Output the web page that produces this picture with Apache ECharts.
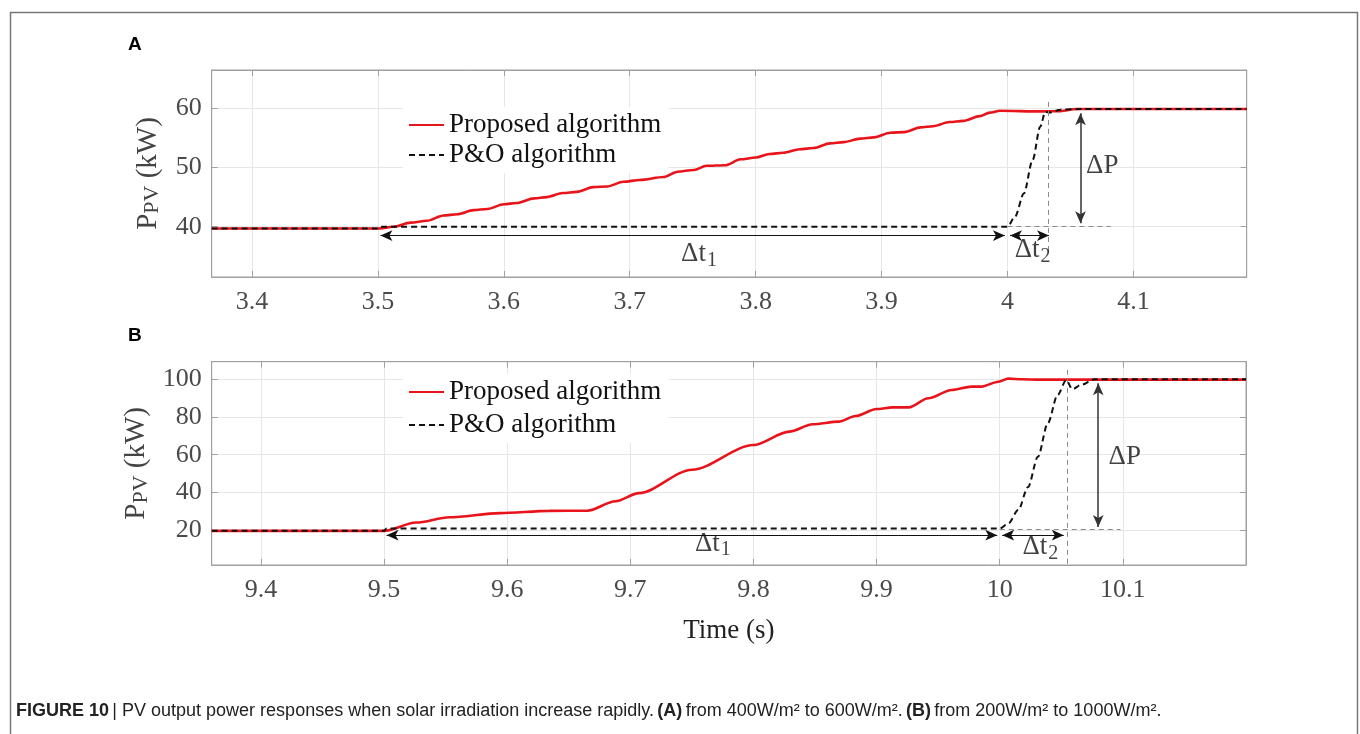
<!DOCTYPE html>
<html><head><meta charset="utf-8">
<script src="https://cdn.jsdelivr.net/npm/echarts@6/dist/echarts.min.js"></script>
<style>html,body{margin:0;padding:0;background:#fff}#c{width:1360px;height:734px}</style>
</head><body><div id="c"></div>
<script>
// ---------- data ----------
// Panel A : 400 -> 600 W/m2
const tPropA = [3.368,3.5,3.5125,3.526,3.539,3.552,3.563,3.576,3.587,3.6,3.61,3.624,3.634,3.647,3.658,3.671,3.682,3.695,3.708,3.727,3.738,3.751,3.761,3.776,3.788,3.8,3.811,3.822,3.835,3.846,3.859,3.87,3.883,3.894,3.907,3.918,3.931,3.941,3.954,3.965,3.978,3.986,3.994,4.026,4.042,4.055,4.19];
const pPropA = [39.7,39.7,40.0,40.7,41.0,41.9,42.1,42.8,43.0,43.8,44.0,44.8,45.0,45.7,45.9,46.7,46.8,47.6,47.9,48.4,49.3,49.6,50.3,50.4,51.4,51.7,52.3,52.5,53.1,53.3,54.1,54.3,54.9,55.1,55.9,56.0,56.8,57.0,57.7,57.9,58.7,59.3,59.6,59.5,59.55,59.9,59.9];
const tPoA = [3.368,3.5,3.502,4.0,4.006,4.013,4.02,4.026,4.03,4.034,4.042,4.058,4.19];
const pPoA = [39.7,39.7,40.0,40.0,41.7,45.6,51.3,56.9,59.4,59.3,59.8,59.9,59.9];
// Panel B : 200 -> 1000 W/m2
const tPropB = [9.36,9.5,9.526,9.553,9.594,9.634,9.665,9.688,9.707,9.75,9.8,9.829,9.848,9.869,9.883,9.9,9.913,9.926,9.942,9.961,9.977,9.985,9.999,10.007,10.018,10.032,10.2];
const pPropB = [19.6,19.6,24.0,26.8,29.0,30.2,30.3,35.3,39.6,52.0,65.1,72.2,76.1,77.5,80.5,84.2,85.1,85.1,89.9,94.3,96.1,96.1,98.7,100.3,100,99.8,99.8];
const tPoB = [9.36,9.5,9.502,10.0,10.007,10.015,10.023,10.031,10.039,10.047,10.054,10.059,10.066,10.077,10.2];
const pPoB = [19.6,19.6,20.9,20.9,23.5,30.6,42.9,58.9,76.6,91.7,99.6,94.7,97.0,100,100];

// axis ranges and tick labels
const xRangeA = [3.368, 4.19], yRangeA = [31.5, 66.5];
const xRangeB = [9.36, 10.2],  yRangeB = [1.5, 109.3];
const xTicksA = [3.4,3.5,3.6,3.7,3.8,3.9,4.0,4.1];
const yTicksA = [40,50,60];
const xTicksB = [9.4,9.5,9.6,9.7,9.8,9.9,10.0,10.1];
const yTicksB = [20,40,60,80,100];

// annotations (data units)
const dtArrowsA = [[[3.502,38.5],[3.998,38.5]], [[4.002,38.5],[4.033,38.5]]];
const dPArrowA = [[4.058,59.2],[4.058,40.6]];
const guidesA = [[[4.032,61.1],[4.032,35.6]], [[4.0,40.0],[4.082,40.0]]];
const labelsA = [['dt1',3.755,35.1],['dt2',4.02,35.8],['dP',4.062,50.1]];
const dtArrowsB = [[[9.502,17.3],[9.998,17.3]], [[10.002,17.3],[10.052,17.3]]];
const dPArrowB = [[10.08,97.9],[10.08,21.7]];
const guidesB = [[[10.055,105],[10.055,1.5]], [[10.0,20.3],[10.098,20.3]]];
const labelsB = [['dt1',9.767,12.0],['dt2',10.033,10.2],['dP',10.088,58.0]];

const seriesNames = ['Proposed algorithm','P&O algorithm'];

// ---------- chart ----------
const serif = "'Liberation Serif','Times New Roman',serif";
const zip = (t,p) => t.map((x,i)=>[x,p[i]]);
const fmt = v => String(Math.round(v*1000)/1000);
const axisGrey = '#a0a0a0';

function xAxes(gi, range, ticks, name){
  return [{
    type:'value', gridIndex:gi, min:range[0], max:range[1], position:'bottom',
    axisLine:{show:true, lineStyle:{color:axisGrey}},
    axisTick:{show:true, inside:true, length:6, customValues:ticks, lineStyle:{color:axisGrey}},
    axisLabel:{customValues:ticks, formatter:fmt, margin:12, fontFamily:serif, fontSize:26, color:'#4a4a4a'},
    splitLine:{show:true, lineStyle:{color:'#e6e6e6'}},
    name: name || '', nameLocation:'middle', nameGap:52,
    nameTextStyle:{fontFamily:serif, fontSize:27, color:'#222'}
  },{
    type:'value', gridIndex:gi, min:range[0], max:range[1], position:'top',
    axisLine:{show:true, lineStyle:{color:axisGrey}},
    axisTick:{show:true, inside:true, length:6, customValues:ticks, lineStyle:{color:axisGrey}},
    axisLabel:{show:false}, splitLine:{show:false}
  }];
}
function yAxes(gi, range, ticks){
  return [{
    type:'value', gridIndex:gi, min:range[0], max:range[1], position:'left',
    axisLine:{show:true, lineStyle:{color:axisGrey}},
    axisTick:{show:true, inside:true, length:6, customValues:ticks, lineStyle:{color:axisGrey}},
    axisLabel:{customValues:ticks, formatter:fmt, margin:10, fontFamily:serif, fontSize:26, color:'#4a4a4a'},
    splitLine:{show:true, lineStyle:{color:'#e6e6e6'}},
    name:'{m|P}{s|PV}{m| (kW)}', nameLocation:'middle', nameRotate:90, nameGap:48,
    nameTextStyle:{fontFamily:serif, color:'#444',
      rich:{ m:{fontFamily:serif, fontSize:29, color:'#444', lineHeight:30, verticalAlign:'top'},
             s:{fontFamily:serif, fontSize:22, color:'#444', lineHeight:22, verticalAlign:'bottom', padding:[15,0,0,0]} } }
  },{
    type:'value', gridIndex:gi, min:range[0], max:range[1], position:'right',
    axisLine:{show:true, lineStyle:{color:axisGrey}},
    axisTick:{show:true, inside:true, length:6, customValues:ticks, lineStyle:{color:axisGrey}},
    axisLabel:{show:false}, splitLine:{show:false}
  }];
}

const labelRich = {
  m:{fontFamily:serif, fontSize:27, color:'#111', lineHeight:30, verticalAlign:'top'},
  s:{fontFamily:serif, fontSize:20, color:'#111', lineHeight:20, verticalAlign:'bottom', padding:[14,0,0,1]}
};
const labelText = {dt1:'{m|Δt}{s|1}', dt2:'{m|Δt}{s|2}', dP:'{m|ΔP}'};

function panelSeries(xi, yi, tp, pp, to, po, dtArrows, dPArrow, guides, labels){
  const arrowStyle = {color:'#111', width:1.2, type:'solid'};
  const mlData = [];
  dtArrows.forEach(a => mlData.push([
    {coord:a[0], symbol:'arrow', symbolSize:[8,12], lineStyle:arrowStyle},
    {coord:a[1], symbol:'arrow', symbolSize:[8,12], lineStyle:arrowStyle}]));
  mlData.push([
    {coord:dPArrow[0], symbol:'arrow', symbolSize:[8,12], lineStyle:{color:'#333', width:1.5, type:'solid'}},
    {coord:dPArrow[1], symbol:'arrow', symbolSize:[8,12], lineStyle:{color:'#333', width:1.5, type:'solid'}}]);
  guides.forEach(g => mlData.push([
    {coord:g[0], symbol:'none', lineStyle:{color:'#8a8a8a', width:1, type:[5,4]}},
    {coord:g[1], symbol:'none', lineStyle:{color:'#8a8a8a', width:1, type:[5,4]}}]));
  return [
    {type:'line', name:seriesNames[0], xAxisIndex:xi, yAxisIndex:yi, data:zip(tp,pp),
     symbol:'none', smooth:0.3, smoothMonotone:'x', z:3,
     lineStyle:{color:'#e8141b', width:2.6}, itemStyle:{color:'#e8141b'}},
    {type:'line', name:seriesNames[1], xAxisIndex:xi, yAxisIndex:yi, data:zip(to,po),
     symbol:'none', smooth:0.3, smoothMonotone:'x', z:4,
     lineStyle:{color:'#111', width:2, type:[6,4]}, itemStyle:{color:'#111'}},
    {type:'line', name:'annot', xAxisIndex:xi, yAxisIndex:yi, data:[], silent:true, z:5,
     markLine:{silent:true, animation:false, symbol:['none','none'], label:{show:false}, data:mlData}},
    {type:'scatter', name:'labels', xAxisIndex:xi, yAxisIndex:yi, silent:true, z:6,
     symbolSize:1, itemStyle:{color:'rgba(0,0,0,0)'},
     data: labels.map(l => ({value:[l[1], l[2]],
       label:{show:true, position: l[0]==='dP' ? 'right' : 'inside', distance:0,
              formatter: labelText[l[0]], rich:labelRich}}))}
  ];
}

const legendBase = {
  left:403, orient:'vertical', itemWidth:35, itemHeight:14, padding:[3,7,3,5],
  backgroundColor:'#fff', selectedMode:false, data:seriesNames, z:10,
  itemStyle:{opacity:0, borderWidth:0},
  textStyle:{fontFamily:serif, fontSize:27, color:'#111', lineHeight:30}
};

const capFont = "'Liberation Sans Narrow','Liberation Sans',Arial,sans-serif";
const option = {
  animation:false,
  backgroundColor:'#fff',
  grid:[
    {left:211.7, top:70, right:113.3, height:207, show:true, borderColor:axisGrey, borderWidth:1, backgroundColor:'#fff'},
    {left:211.7, top:361.7, right:114, height:203.3, show:true, borderColor:axisGrey, borderWidth:1, backgroundColor:'#fff'}
  ],
  xAxis:[...xAxes(0, xRangeA, xTicksA), ...xAxes(1, xRangeB, xTicksB, 'Time (s)')],
  yAxis:[...yAxes(0, yRangeA, yTicksA), ...yAxes(1, yRangeB, yTicksB)],
  legend:[
    Object.assign({}, legendBase, {top:107, itemGap:0}),
    Object.assign({}, legendBase, {top:374, itemGap:3})
  ],
  series:[
    ...panelSeries(0, 0, tPropA, pPropA, tPoA, pPoA, dtArrowsA, dPArrowA, guidesA, labelsA),
    ...panelSeries(2, 2, tPropB, pPropB, tPoB, pPoB, dtArrowsB, dPArrowB, guidesB, labelsB)
  ],
  graphic:[
    {type:'rect', left:8, top:10, silent:true, z:-1,
     shape:{width:1347, height:780}, style:{fill:'none', stroke:'#777', lineWidth:1.5}},
    {type:'text', left:128, top:35, style:{text:'A', font:"bold 19px 'Liberation Sans',Arial,sans-serif", fill:'#000'}},
    {type:'text', left:128, top:326, style:{text:'B', font:"bold 19px 'Liberation Sans',Arial,sans-serif", fill:'#000'}},
    {type:'text', left:16, top:702, style:{
      text:'{b|FIGURE 10} {n|| PV output power responses when solar irradiation increase rapidly.} {b|(A)} {n|from 400W/m² to 600W/m².} {b|(B)} {n|from 200W/m² to 1000W/m².}',
      rich:{
        b:{fontFamily:capFont, fontWeight:'bold', fontSize:18, fill:'#222', color:'#222'},
        n:{fontFamily:capFont, fontSize:18, fill:'#222', color:'#222'}
      }}}
  ]
};
const chart = echarts.init(document.getElementById('c'), null, {renderer:'canvas'});
chart.setOption(option);
</script></body></html>
